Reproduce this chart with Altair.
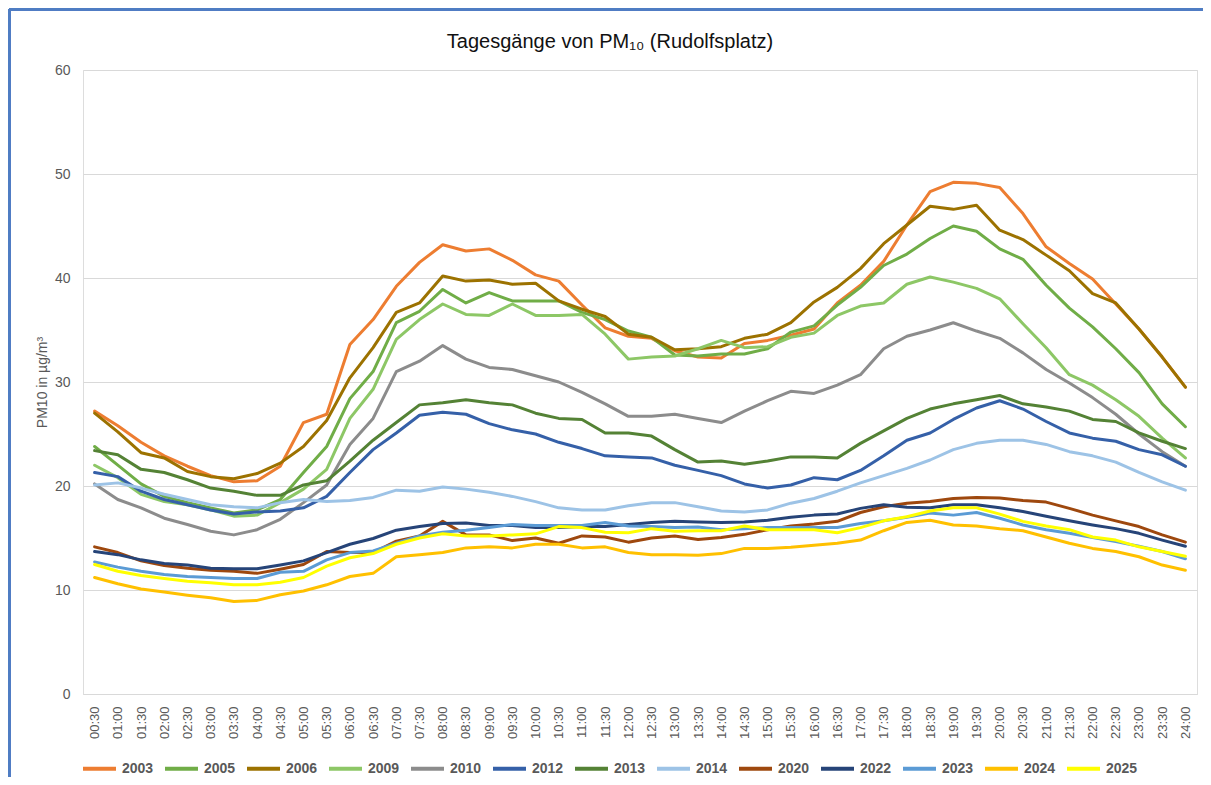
import altair as alt
import pandas as pd

times = ["00:30", "01:00", "01:30", "02:00", "02:30", "03:00", "03:30", "04:00",
         "04:30", "05:00", "05:30", "06:00", "06:30", "07:00", "07:30", "08:00",
         "08:30", "09:00", "09:30", "10:00", "10:30", "11:00", "11:30", "12:00",
         "12:30", "13:00", "13:30", "14:00", "14:30", "15:00", "15:30", "16:00",
         "16:30", "17:00", "17:30", "18:00", "18:30", "19:00", "19:30", "20:00",
         "20:30", "21:00", "21:30", "22:00", "22:30", "23:00", "23:30", "24:00"]

y2003 = [27.2, 25.8, 24.2, 22.9, 21.9, 21.0, 20.4, 20.5, 21.9, 26.1, 26.9, 33.6,
         36.0, 39.2, 41.5, 43.2, 42.6, 42.8, 41.7, 40.3, 39.7, 37.4, 35.2, 34.4,
         34.2, 33.0, 32.4, 32.3, 33.7, 34.0, 34.5, 35.1, 37.6, 39.3, 41.6, 45.1,
         48.3, 49.2, 49.1, 48.7, 46.2, 43.0, 41.4, 39.9, 37.5, 35.1, 32.4, 29.5]
y2005 = [23.8, 22.0, 20.2, 19.0, 18.4, 17.9, 17.4, 17.7, 18.7, 21.3, 23.8, 28.4,
         31.0, 35.7, 36.8, 38.9, 37.6, 38.6, 37.8, 37.8, 37.8, 36.7, 36.0, 34.9,
         34.3, 32.6, 32.5, 32.7, 32.7, 33.2, 34.8, 35.4, 37.4, 39.1, 41.2, 42.3,
         43.8, 45.0, 44.5, 42.8, 41.8, 39.3, 37.1, 35.3, 33.2, 30.9, 27.9, 25.7]
y2006 = [27.0, 25.2, 23.2, 22.7, 21.4, 20.9, 20.7, 21.2, 22.2, 23.8, 26.3, 30.4,
         33.3, 36.7, 37.6, 40.2, 39.7, 39.8, 39.4, 39.5, 37.8, 37.0, 36.3, 34.6,
         34.3, 33.1, 33.2, 33.4, 34.2, 34.6, 35.7, 37.7, 39.1, 40.9, 43.3, 45.1,
         46.9, 46.6, 47.0, 44.6, 43.7, 42.2, 40.7, 38.5, 37.6, 35.1, 32.4, 29.5]
y2009 = [22.0, 20.8, 19.2, 18.5, 18.2, 17.7, 17.1, 17.2, 18.4, 19.7, 21.6, 26.5,
         29.3, 34.1, 36.0, 37.5, 36.5, 36.4, 37.5, 36.4, 36.4, 36.5, 34.6, 32.2,
         32.4, 32.5, 33.2, 34.0, 33.3, 33.4, 34.3, 34.7, 36.4, 37.3, 37.6, 39.4,
         40.1, 39.6, 39.0, 38.0, 35.6, 33.3, 30.7, 29.7, 28.3, 26.7, 24.6, 22.7]
y2010 = [20.2, 18.7, 17.9, 16.9, 16.3, 15.65, 15.3, 15.8, 16.8, 18.4, 20.1, 24.0,
         26.5, 31.0, 32.0, 33.5, 32.2, 31.4, 31.2, 30.6, 30.0, 29.0, 27.9, 26.7,
         26.7, 26.9, 26.5, 26.1, 27.2, 28.2, 29.1, 28.9, 29.7, 30.7, 33.2, 34.4,
         35.0, 35.7, 34.9, 34.2, 32.8, 31.2, 29.9, 28.5, 26.9, 25.0, 23.3, 21.9]
y2012 = [21.3, 20.9, 19.5, 18.7, 18.2, 17.7, 17.3, 17.5, 17.6, 17.9, 19.0, 21.3,
         23.5, 25.1, 26.8, 27.1, 26.9, 26.0, 25.4, 25.0, 24.2, 23.6, 22.9, 22.8,
         22.7, 22.0, 21.5, 21.0, 20.2, 19.8, 20.1, 20.8, 20.6, 21.5, 22.9, 24.4,
         25.1, 26.4, 27.5, 28.2, 27.4, 26.2, 25.1, 24.6, 24.3, 23.5, 23.0, 21.9]
y2013 = [23.4, 23.0, 21.6, 21.3, 20.6, 19.8, 19.5, 19.1, 19.1, 20.1, 20.5, 22.4,
         24.4, 26.1, 27.8, 28.0, 28.3, 28.0, 27.8, 27.0, 26.5, 26.4, 25.1, 25.1,
         24.8, 23.5, 22.3, 22.4, 22.1, 22.4, 22.8, 22.8, 22.7, 24.1, 25.3, 26.5,
         27.4, 27.9, 28.3, 28.7, 27.9, 27.6, 27.2, 26.4, 26.2, 25.1, 24.3, 23.6]
y2014 = [20.1, 20.3, 19.8, 19.2, 18.7, 18.2, 18.0, 17.9, 18.4, 18.7, 18.5, 18.6,
         18.9, 19.6, 19.5, 19.9, 19.7, 19.4, 19.0, 18.5, 17.9, 17.7, 17.7, 18.1,
         18.4, 18.4, 18.0, 17.6, 17.5, 17.7, 18.35, 18.8, 19.5, 20.3, 21.0, 21.7,
         22.5, 23.5, 24.1, 24.4, 24.4, 24.0, 23.3, 22.9, 22.3, 21.3, 20.4, 19.6]
y2020 = [14.15, 13.6, 12.8, 12.35, 12.1, 11.9, 11.8, 11.6, 12.0, 12.45, 13.7, 13.6,
         13.6, 14.7, 15.2, 16.6, 15.3, 15.3, 14.75, 15.0, 14.5, 15.2, 15.1, 14.6,
         15.0, 15.2, 14.85, 15.05, 15.35, 15.8, 16.15, 16.35, 16.6, 17.45, 18.0, 18.35,
         18.5, 18.8, 18.9, 18.85, 18.6, 18.45, 17.85, 17.2, 16.65, 16.1, 15.3, 14.6]
y2022 = [13.7, 13.4, 12.9, 12.55, 12.4, 12.1, 12.05, 12.05, 12.4, 12.8, 13.6, 14.4,
         14.95, 15.75, 16.1, 16.4, 16.45, 16.2, 16.2, 16.0, 16.0, 16.1, 16.1, 16.3,
         16.5, 16.6, 16.55, 16.5, 16.55, 16.7, 17.0, 17.2, 17.3, 17.85, 18.2, 17.95,
         17.9, 18.2, 18.2, 17.9, 17.55, 17.1, 16.65, 16.25, 15.9, 15.45, 14.8, 14.2]
y2023 = [12.7, 12.2, 11.8, 11.5, 11.3, 11.2, 11.1, 11.1, 11.7, 11.8, 12.9, 13.6,
         13.75, 14.5, 15.2, 15.55, 15.75, 16.0, 16.3, 16.2, 16.2, 16.2, 16.5, 16.15,
         16.1, 16.0, 16.05, 15.8, 15.9, 16.0, 16.0, 16.0, 16.0, 16.4, 16.65, 17.0,
         17.4, 17.2, 17.45, 16.9, 16.25, 15.8, 15.45, 15.05, 14.65, 14.2, 13.7, 13.0]
y2024 = [11.2, 10.6, 10.1, 9.8, 9.5, 9.25, 8.9, 9.0, 9.55, 9.9, 10.5, 11.3,
         11.6, 13.2, 13.4, 13.6, 14.05, 14.15, 14.05, 14.4, 14.4, 14.05, 14.15, 13.6,
         13.4, 13.4, 13.35, 13.5, 14.0, 14.0, 14.1, 14.3, 14.5, 14.8, 15.7, 16.5,
         16.7, 16.25, 16.15, 15.9, 15.7, 15.1, 14.5, 14.0, 13.7, 13.2, 12.4, 11.9]
y2025 = [12.45, 11.8, 11.4, 11.1, 10.85, 10.7, 10.5, 10.5, 10.75, 11.2, 12.3, 13.1,
         13.5, 14.4, 15.0, 15.4, 15.2, 15.2, 15.3, 15.4, 16.1, 16.0, 15.55, 15.5,
         15.9, 15.65, 15.7, 15.7, 16.15, 15.8, 15.8, 15.8, 15.5, 16.0, 16.65, 17.05,
         17.6, 17.9, 17.9, 17.3, 16.6, 16.15, 15.8, 15.1, 14.8, 14.15, 13.7, 13.25]

years = ["2003", "2005", "2006", "2009", "2010", "2012", "2013",
         "2014", "2020", "2022", "2023", "2024", "2025"]
series = [y2003, y2005, y2006, y2009, y2010, y2012, y2013,
          y2014, y2020, y2022, y2023, y2024, y2025]
colors = ["#ED7D31", "#70AD47", "#9C7200", "#8DC766", "#8C8C8C", "#3560A8", "#548235",
          "#9DC3E6", "#9E480E", "#264478", "#5B9BD5", "#FFC000", "#FFFF00"]
title_text = ["Tagesgänge von PM₁₀ (Rudolfsplatz)"]

rows = []
for yr, vals in zip(years, series):
    for t, v in zip(times, vals):
        rows.append({"Zeit": t, "Jahr": yr, "PM10": v})
df = pd.DataFrame(rows)

W, H = 1114, 624

lines = alt.Chart(df).mark_line(strokeWidth=3, strokeJoin="round", strokeCap="round").encode(
    x=alt.X("Zeit:O", sort=times,
            scale=alt.Scale(type="point", padding=0.5),
            axis=alt.Axis(title=None, labelAngle=270, labelPadding=12, ticks=False,
                          domain=True, domainColor="#D9D9D9", domainWidth=1,
                          labelFont="Liberation Sans", labelFontSize=13,
                          labelColor="#595959", grid=False)),
    y=alt.Y("PM10:Q",
            scale=alt.Scale(domain=[0, 60], nice=False),
            axis=alt.Axis(values=[0, 10, 20, 30, 40, 50, 60], title="PM10 in µg/m³",
                          titleFont="Liberation Sans", titleFontSize=14,
                          titleFontWeight="normal", titleColor="#595959",
                          titleX=-41, titleY=H / 2, titleAngle=270,
                          titleAlign="center", titleBaseline="middle",
                          labelFont="Liberation Sans", labelFontSize=14,
                          labelColor="#595959", labelPadding=13,
                          ticks=False, domain=False,
                          gridColor="#D9D9D9", gridWidth=1.2)),
    color=alt.Color("Jahr:N", sort=years,
                    scale=alt.Scale(domain=years, range=colors),
                    legend=alt.Legend(title=None, orient="none", direction="horizontal",
                                      columns=13, legendX=-2, legendY=680,
                                      symbolType="stroke", symbolStrokeWidth=4,
                                      symbolSize=1089, labelOffset=4,
                                      columnPadding=3,
                                      labelFont="Liberation Sans", labelFontSize=14,
                                      labelFontWeight="bold", labelColor="#595959")),
    order=alt.Order("Jahr:N"),
)

title = alt.Chart(pd.DataFrame({"t": title_text})).mark_text(
    font="Liberation Sans", fontSize=20, color="#111111", align="center",
    baseline="alphabetic").encode(
    text="t:N", x=alt.value(527), y=alt.value(-22))

frame_left = alt.Chart(df).mark_rule(color="#4F7DC3", strokeWidth=2.5).encode(
    x=alt.value(-74), y=alt.value(-61), y2=alt.value(760))
frame_top = alt.Chart(df).mark_rule(color="#4F7DC3", strokeWidth=2.5).encode(
    x=alt.value(-74), x2=alt.value(1300), y=alt.value(-61))

chart = alt.layer(lines, title, frame_left, frame_top).properties(
    width=W, height=H,
    autosize=alt.AutoSizeParams(type="none"),
    padding={"left": 75, "top": 62, "right": 6, "bottom": 83},
).configure_view(stroke=None).configure(background="white")

chart.save("out.html", embed_options={"renderer": "svg", "actions": False})
